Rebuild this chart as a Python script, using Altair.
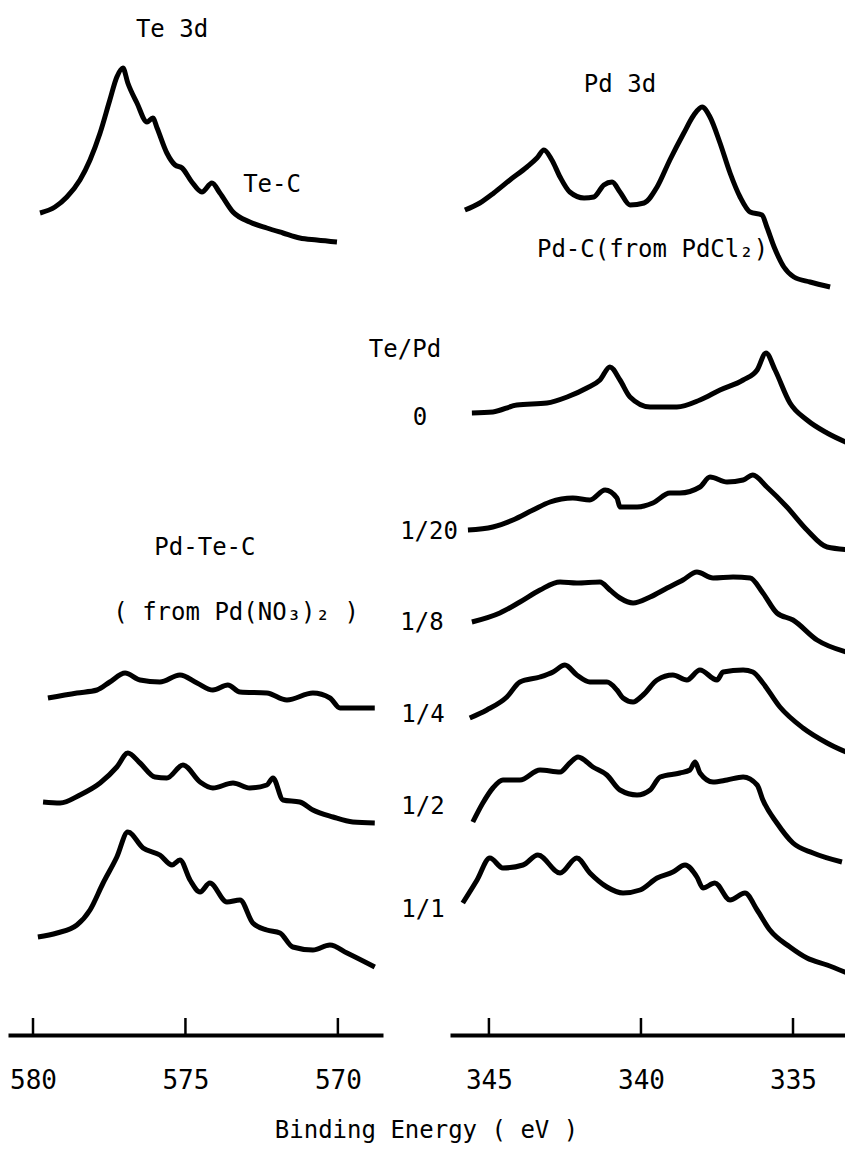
import altair as alt
import pandas as pd

FONT = "DejaVu Sans Mono"

# ---------------- Te 3d region (left panel) ----------------
# Te-C reference spectrum
te_c_ev = [579.77, 579.28, 578.89, 578.46, 578.13, 577.80, 577.48, 577.25, 577.05, 576.89,
           576.59, 576.26, 576.07, 575.93, 575.61, 575.34, 575.11, 574.79, 574.46, 574.13,
           573.87, 573.44, 572.89, 572.33, 571.80, 571.25, 570.69, 570.03]
te_c_int = [822, 828, 838, 855, 875, 902, 935, 958, 967, 952,
            932, 913, 917, 907, 882, 870, 867, 853, 843, 852,
            842, 823, 813, 807, 802, 797, 795, 793]

# Pd-Te-C (from Pd(NO3)2), Te 3d, Te/Pd = 1/4
te_q_ev = [579.51, 578.56, 577.90, 577.48, 576.98, 576.49, 575.84, 575.18, 574.62, 574.10,
           573.61, 573.21, 572.33, 571.67, 570.82, 570.26, 569.93, 568.79]
te_q_int = [337, 342, 345, 353, 362, 355, 353, 360, 352, 345,
            350, 343, 342, 335, 342, 337, 327, 327]

# Te/Pd = 1/2
te_h_ev = [579.67, 579.11, 578.46, 577.80, 577.25, 576.89, 576.49, 576.00, 575.61, 575.08,
           574.52, 574.10, 573.44, 572.89, 572.33, 572.13, 571.80, 571.25, 570.82, 570.16,
           569.51, 568.79]
te_h_int = [233, 232, 240, 252, 268, 282, 272, 258, 257, 270,
            253, 247, 252, 247, 250, 257, 235, 233, 225, 218,
            213, 212]

# Te/Pd = 1/1
te_o_ev = [579.84, 579.21, 578.56, 578.13, 577.70, 577.25, 576.89, 576.39, 575.84, 575.44,
           575.18, 574.85, 574.52, 574.20, 573.64, 573.21, 572.79, 572.33, 571.90, 571.48,
           570.82, 570.26, 569.70, 568.79]
te_o_int = [98, 102, 110, 125, 152, 178, 203, 187, 180, 170,
            175, 155, 143, 152, 133, 135, 112, 105, 102, 88,
            85, 90, 82, 68]

# ---------------- Pd 3d region (right panel) ----------------
# Pd-C (from PdCl2)
pd_c_ev = [345.79, 345.30, 344.84, 344.31, 343.75, 343.42, 343.19, 342.93, 342.66, 342.34,
           341.87, 341.55, 341.22, 340.95, 340.69, 340.36, 339.90, 339.47, 339.05, 338.59,
           338.26, 337.99, 337.73, 337.40, 337.07, 336.74, 336.41, 336.02, 335.86, 335.62,
           335.30, 334.97, 334.44, 333.78]
pd_c_int = [825, 832, 842, 855, 868, 877, 885, 875, 858, 843,
            837, 838, 850, 853, 843, 830, 832, 848, 875, 902,
            920, 928, 918, 892, 862, 838, 823, 820, 808, 788,
            768, 758, 753, 748]

# Te/Pd = 0
pd_0_ev = [345.56, 344.87, 344.08, 343.09, 342.43, 341.78, 341.35, 341.02, 340.69, 340.36,
           339.70, 338.82, 338.06, 337.40, 336.64, 336.18, 335.89, 335.59, 335.10, 334.54,
           333.88, 333.03]
pd_0_int = [622, 623, 630, 632, 638, 647, 655, 668, 655, 638,
            628, 628, 635, 645, 655, 665, 682, 665, 632, 615,
            602, 590]

# Te/Pd = 1/20
pd_20_ev = [345.69, 344.87, 344.21, 343.55, 342.99, 342.24, 341.68, 341.18, 340.79, 340.69,
            340.13, 339.61, 339.05, 338.72, 338.06, 337.73, 337.17, 336.64, 336.32, 335.86,
            335.20, 334.54, 333.88, 333.03]
pd_20_int = [505, 508, 515, 525, 533, 537, 535, 545, 537, 528,
             528, 532, 542, 542, 548, 558, 553, 555, 560, 548,
             528, 505, 488, 485]

# Te/Pd = 1/8
pd_8_ev = [345.56, 344.64, 343.98, 343.32, 342.66, 342.11, 341.35, 341.02, 340.69, 340.26,
           339.70, 339.14, 338.62, 338.16, 337.63, 336.97, 336.41, 335.99, 335.53, 335.00,
           334.21, 333.12]
pd_8_int = [413, 422, 433, 445, 453, 452, 453, 445, 437, 432,
            438, 447, 455, 463, 457, 458, 457, 442, 422, 415,
            395, 382]

# Te/Pd = 1/4
pd_4_ev = [345.63, 345.07, 344.41, 343.98, 343.32, 342.89, 342.50, 342.11, 341.68, 341.12,
           340.79, 340.59, 340.26, 339.93, 339.47, 338.95, 338.49, 338.06, 337.50, 337.30,
           336.64, 336.32, 335.99, 335.43, 334.67, 333.88, 333.03]
pd_4_int = [317, 325, 338, 353, 358, 363, 370, 360, 353, 353,
            345, 337, 333, 340, 355, 360, 355, 365, 355, 363,
            365, 363, 352, 328, 307, 292, 280]

# Te/Pd = 1/2
pd_2_ev = [345.53, 345.20, 344.87, 344.54, 343.98, 343.32, 342.66, 342.34, 342.07, 341.58,
           341.12, 340.69, 340.13, 339.70, 339.37, 338.72, 338.39, 338.22, 338.06, 337.63,
           337.17, 336.64, 336.18, 335.99, 335.53, 335.00, 334.34, 333.39]
pd_2_int = [213, 232, 247, 255, 255, 265, 263, 272, 278, 268,
            260, 245, 240, 245, 258, 262, 265, 273, 262, 253,
            255, 258, 250, 235, 212, 192, 182, 173]

# Te/Pd = 1/1
pd_1_ev = [345.86, 345.39, 344.97, 344.54, 343.88, 343.39, 342.66, 342.11, 341.68, 341.12,
           340.59, 340.03, 339.47, 338.95, 338.55, 338.16, 337.96, 337.57, 337.07, 336.58,
           336.18, 335.76, 335.10, 334.54, 333.88, 333.22]
pd_1_int = [132, 155, 177, 167, 170, 180, 162, 177, 162, 148,
            142, 145, 157, 163, 170, 158, 147, 152, 135, 142,
            125, 105, 88, 77, 70, 62]

# axis ticks
left_ticks = [580, 575, 570]
right_ticks = [345, 340, 335]

# text annotations
left_text = ["Te 3d", "Te-C", "Pd-Te-C", "( from Pd(NO\u2083)\u2082 )"]
left_text_ev = [575.44, 572.16, 574.36, 573.34]
left_text_y = [1005, 850, 487, 422]

right_text = ["Pd 3d", "Te/Pd", "0", "1/20", "1/8", "1/4", "1/2", "1/1"]
right_text_ev = [340.69, 347.76, 347.27, 346.97, 347.20, 347.17, 347.17, 347.17]
right_text_y = [950, 685, 617, 503, 412, 320, 228, 125]

pdc_label = ["Pd-C(from PdCl\u2082)"]
pdc_label_ev = [343.42]
pdc_label_y = [785]


def traces(items):
    frames = []
    for name, ev, inten in items:
        frames.append(pd.DataFrame({"trace": name, "energy": ev, "intensity": inten,
                                    "order": list(range(len(ev)))}))
    return pd.concat(frames, ignore_index=True)


left_df = traces([("Te-C", te_c_ev, te_c_int), ("1/4", te_q_ev, te_q_int),
                  ("1/2", te_h_ev, te_h_int), ("1/1", te_o_ev, te_o_int)])
right_df = traces([("Pd-C", pd_c_ev, pd_c_int), ("0", pd_0_ev, pd_0_int),
                   ("1/20", pd_20_ev, pd_20_int), ("1/8", pd_8_ev, pd_8_int),
                   ("1/4", pd_4_ev, pd_4_int), ("1/2", pd_2_ev, pd_2_int),
                   ("1/1", pd_1_ev, pd_1_int)])

Y_DOMAIN = [0, 1027]


def panel(df, domain, ticks, texts, width, extra=None):
    x = alt.X("energy:Q",
              scale=alt.Scale(domain=domain, nice=False, zero=False),
              axis=alt.Axis(values=ticks, ticks=False, grid=False, title=None,
                            domainWidth=4, domainColor="black",
                            labelFont=FONT, labelFontSize=26, labelColor="black",
                            labelPadding=32, labelFlush=False, format="d"))
    y = alt.Y("intensity:Q", scale=alt.Scale(domain=Y_DOMAIN, nice=False, zero=False),
              axis=None)
    lines = alt.Chart(df).mark_line(color="black", strokeWidth=5, strokeJoin="round",
                                    interpolate="monotone", clip=True).encode(
        x=x, y=y, detail="trace:N", order="order:Q")
    tick_df = pd.DataFrame({"energy": ticks, "intensity": [0] * len(ticks),
                            "top": [17] * len(ticks)})
    rules = alt.Chart(tick_df).mark_rule(color="black", strokeWidth=2.5).encode(
        x=x, y=y, y2="top:Q")
    tdf = pd.DataFrame({"label": texts[0], "energy": texts[1], "intensity": texts[2]})
    txt = alt.Chart(tdf).mark_text(font=FONT, fontSize=24, color="black",
                                   align="center", baseline="middle").encode(
        x=x, y=y, text="label:N")
    layers = [lines, rules, txt]
    if extra is not None:
        edf = pd.DataFrame({"label": extra[0], "energy": extra[1], "intensity": extra[2]})
        layers.append(alt.Chart(edf).mark_text(font=FONT, fontSize=24, color="black",
                                               align="left", baseline="middle").encode(
            x=x, y=y, text="label:N"))
    return alt.layer(*layers).properties(width=width, height=Y_DOMAIN[1])


left = panel(left_df, [580.82, 568.52], left_ticks,
             (left_text, left_text_ev, left_text_y), 375)
right = panel(right_df, [346.28, 333.29], right_ticks,
              (right_text, right_text_ev, right_text_y), 395,
              extra=(pdc_label, pdc_label_ev, pdc_label_y))

chart = alt.hconcat(left, right, spacing=67, bounds="flush").properties(
    padding=0,
    title=alt.TitleParams("Binding Energy ( eV )", orient="bottom", anchor="middle",
                          font=FONT, fontSize=24, fontWeight="normal", color="black",
                          offset=26)
).configure(background="white").configure_view(stroke=None)

chart.save("out.html", embed_options={"renderer": "svg", "actions": False})
